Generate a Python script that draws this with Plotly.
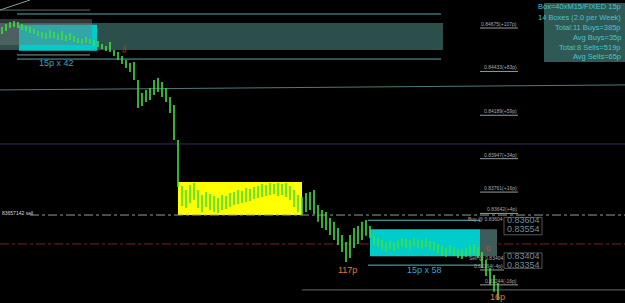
import plotly.graph_objects as go

# ---- price bars ----
bar_high = [0.84681, 0.84697, 0.84709, 0.84714, 0.84709, 0.84697, 0.84686, 0.84681, 0.84670, 0.84658,
            0.84653, 0.84647, 0.84664, 0.84653, 0.84642, 0.84658, 0.84636, 0.84647, 0.84630, 0.84619,
            0.84614, 0.84625, 0.84614, 0.84608, 0.84603, 0.84586, 0.84575, 0.84597, 0.84553, 0.84541,
            0.84519, 0.84497, 0.84480, 0.84486, 0.84385, 0.84313, 0.84330, 0.84341, 0.84385, 0.84397,
            0.84374, 0.84341, 0.84291, 0.84246, 0.84051, 0.83795, 0.83773, 0.83801, 0.83812, 0.83773,
            0.83745, 0.83762, 0.83750, 0.83739, 0.83728, 0.83745, 0.83739, 0.83756, 0.83762, 0.83773,
            0.83767, 0.83784, 0.83778, 0.83789, 0.83795, 0.83806, 0.83801, 0.83812, 0.83806, 0.83812,
            0.83806, 0.83812, 0.83795, 0.83773, 0.83745, 0.83734, 0.83756, 0.83762, 0.83773, 0.83689,
            0.83661, 0.83650, 0.83617, 0.83595, 0.83561, 0.83522, 0.83483, 0.83522, 0.83561, 0.83572,
            0.83595, 0.83606, 0.83572, 0.83517, 0.83505, 0.83494, 0.83483, 0.83489, 0.83478, 0.83494,
            0.83505, 0.83500, 0.83494, 0.83505, 0.83500, 0.83494, 0.83505, 0.83489, 0.83483, 0.83472,
            0.83461, 0.83450, 0.83466, 0.83455, 0.83444, 0.83439, 0.83450, 0.83461, 0.83472, 0.83455,
            0.83427, 0.83383, 0.83338, 0.83299, 0.83255]
bar_low = [0.84642, 0.84658, 0.84675, 0.84681, 0.84675, 0.84664, 0.84658, 0.84647, 0.84642, 0.84630,
           0.84619, 0.84614, 0.84619, 0.84619, 0.84608, 0.84608, 0.84603, 0.84608, 0.84597, 0.84592,
           0.84586, 0.84592, 0.84586, 0.84575, 0.84569, 0.84558, 0.84547, 0.84541, 0.84519, 0.84497,
           0.84475, 0.84452, 0.84430, 0.84385, 0.84229, 0.84241, 0.84263, 0.84274, 0.84302, 0.84319,
           0.84291, 0.84263, 0.84202, 0.84051, 0.83789, 0.83684, 0.83672, 0.83700, 0.83717, 0.83672,
           0.83650, 0.83678, 0.83661, 0.83650, 0.83645, 0.83661, 0.83667, 0.83678, 0.83689, 0.83695,
           0.83700, 0.83706, 0.83711, 0.83723, 0.83728, 0.83734, 0.83739, 0.83745, 0.83750, 0.83739,
           0.83745, 0.83734, 0.83717, 0.83678, 0.83650, 0.83633, 0.83650, 0.83661, 0.83639, 0.83595,
           0.83561, 0.83550, 0.83522, 0.83494, 0.83466, 0.83427, 0.83372, 0.83394, 0.83450, 0.83472,
           0.83494, 0.83517, 0.83505, 0.83466, 0.83455, 0.83439, 0.83427, 0.83439, 0.83433, 0.83444,
           0.83455, 0.83450, 0.83439, 0.83461, 0.83450, 0.83444, 0.83455, 0.83439, 0.83433, 0.83422,
           0.83405, 0.83400, 0.83416, 0.83405, 0.83394, 0.83388, 0.83400, 0.83411, 0.83416, 0.83394,
           0.83338, 0.83294, 0.83244, 0.83205, 0.83160]

# ---- level labels on the right ----
level_prices = [0.84675, 0.84433, 0.84189, 0.83947, 0.83761, 0.83642]
level_pips = ["+107p", "+83p", "+59p", "+34p", "+16p", "+4p"]

# ---- info panel ----
info_lines = ["Box=40xM15/FIXED 15p", "14 Boxes (2.0 per Week)", "Total:11 Buys=385p",
              "Avg Buys=35p", "Total:8 Sells=519p", "Avg Sells=65p"]

# ---- trade box levels ----
buy_box = (0.84703, 0.84553)
buy_lines = (0.84753, 0.84502)
mid_box = (0.83817, 0.83633)
sell_box = (0.83554, 0.83404)
sell_lines = (0.83604, 0.83354)
sell_level = 0.83472
big_labels = ["0.83604", "0.83554", "0.83404", "0.83354"]

FONT = "Liberation Sans, Arial, sans-serif"

xs, ys = [], []
for i, (h, l) in enumerate(zip(bar_high, bar_low)):
    xs += [i, i, None]
    ys += [l, h, None]

fig = go.Figure()
fig.add_trace(go.Scatter(x=xs, y=ys, mode="lines", line=dict(color="#3fe03f", width=1.6),
                         hoverinfo="skip"))

shapes = []
def rect(x0, x1, y0, y1, fill, line=None, opacity=1.0, layer="below", xref="x", yref="y"):
    shapes.append(dict(type="rect", xref=xref, yref=yref, x0=x0, x1=x1, y0=y0, y1=y1,
                       fillcolor=fill, opacity=opacity, layer=layer,
                       line=dict(width=0 if line is None else 1, color=line or fill)))
def hline(x0, x1, y0, y1, color, width=1, dash="solid", layer="below"):
    shapes.append(dict(type="line", xref="x", yref="y", x0=x0, x1=x1, y0=y0, y1=y1,
                       line=dict(color=color, width=width, dash=dash), layer=layer))

# big dark teal band
rect(-0.5, 110.25, buy_box[1], buy_box[0], "#2d4f4c")
# cyan buy box + gray overlay
rect(4.25, 23.75, buy_box[1] - 0.00005, buy_box[0] - 0.0001, "#00cccc")
rect(-0.5, 22.5, 0.84580, 0.84725, "rgb(110,120,120)", opacity=0.45)
hline(3.75, 109.75, buy_lines[0], buy_lines[0], "#5aa8a8")
hline(3.75, 109.75, buy_lines[1], buy_lines[1], "#5aa8a8")
hline(3.75, 22.0, 0.84525, 0.84525, "#8a9a9a")
hline(-0.5, 22.0, 0.84775, 0.84775, "#5a7070")
hline(-0.5, 7.0, 0.84775, 0.84831, "#8a9a9a")

# long sloping line and purple line
hline(-0.5, 155.75, 0.84330, 0.84358, "#4e7a7a")
hline(-0.5, 155.75, 0.84029, 0.84029, "#3c2a5c")

# yellow box
rect(44.0, 75.0, mid_box[1], mid_box[0], "#ffff00")
# dash-dot levels
hline(7.0, 155.75, mid_box[1], mid_box[1], "#8aa08a", dash="dashdot")
hline(-0.5, 155.75, sell_level, sell_level, "#8a1c1c", dash="dashdot")

# sell box
rect(92.0, 119.5, sell_box[1], sell_box[0], "#00cccc")
rect(119.5, 123.75, sell_box[1], sell_box[0], "#3e5c5c")
hline(91.5, 119.5, sell_lines[0], sell_lines[0], "#5ab8c0")
hline(91.5, 119.5, sell_lines[1], sell_lines[1], "#5ab8c0")
hline(75.0, 155.75, 0.83216, 0.83216, "#6a6a6a")

# level underlines
for p in level_prices:
    hline(119.5, 129.0, p, p, "#9a9a9a")
hline(119.5, 125.5, 0.83327, 0.83327, "#9a9a9a")
hline(119.5, 129.0, 0.83244, 0.83244, "#9a9a9a")

# label outlines
rect(125.5, 135.0, 0.83523, 0.83620, "rgba(0,0,0,0)", line="#555555", layer="above")
rect(125.5, 135.0, 0.83336, 0.83422, "rgba(0,0,0,0)", line="#555555", layer="above")

# info panel
rect(544 / 625, 1.0, 1 - 62 / 303, 1 - 3 / 303, "#2e5955", xref="paper", yref="paper", layer="above")

annotations = []
def txt(x, y, s, color, size, xanchor="center", yanchor="middle", xref="x", yref="y", pad=1):
    annotations.append(dict(x=x, y=y, xref=xref, yref=yref, text=s, showarrow=False,
                            font=dict(color=color, size=size, family=FONT), borderpad=pad,
                            xanchor=xanchor, yanchor=yanchor))

for p, pp in zip(level_prices, level_pips):
    txt(129.0, p, f"{p:.5f}({pp})", "#a8a8a8", 5, xanchor="right", yanchor="bottom", pad=0)
txt(125.4, 0.83327, "0.83364(-4p)", "#a8a8a8", 5, xanchor="right", yanchor="bottom", pad=0)
txt(129.0, 0.83244, "0.83244(-16p)", "#a8a8a8", 5, xanchor="right", yanchor="bottom", pad=0)
txt(125.4, 0.83610, "Buy @ 0.83604", "#a8a8a8", 5, xanchor="right", pad=0)
txt(125.4, 0.83394, "Sell @ 0.83404", "#a8a8a8", 5, xanchor="right", pad=0)
for s in big_labels:
    txt(126.0, float(s), s, "#6e8c9c", 9, xanchor="left", pad=0)

txt(13.5, 0.84480, "15p x 42", "#3aa0c8", 9)
txt(105.5, 0.83327, "15p x 58", "#3aa0c8", 9)
txt(86.3, 0.83327, "117p", "#e07a30", 9)
txt(123.8, 0.83177, "16p", "#e07a30", 9)
txt(121.5, 0.83444, "0", "#d04a2a", 8, pad=0)
txt(30.6, 0.84553, "⇩", "#b03a2a", 10)
txt(0.0, 0.83645, "83657142 sell", "#d8d8d8", 5, xanchor="left", xref="paper")

line_y = [7, 17, 27.5, 37, 47, 57]
for s, yy in zip(info_lines, line_y):
    txt(622 / 625, 1 - yy / 303, s, "#44c6cc", 7.5, xanchor="right", xref="paper", yref="paper", pad=0)

fig.update_layout(
    width=625, height=303, margin=dict(l=0, r=0, t=0, b=0),
    paper_bgcolor="#000000", plot_bgcolor="#000000", showlegend=False,
    xaxis=dict(visible=False, range=[-0.5, 155.75], fixedrange=True),
    yaxis=dict(visible=False, range=[0.83143, 0.84831], fixedrange=True),
    shapes=shapes, annotations=annotations,
)
fig.write_html("out.html")
